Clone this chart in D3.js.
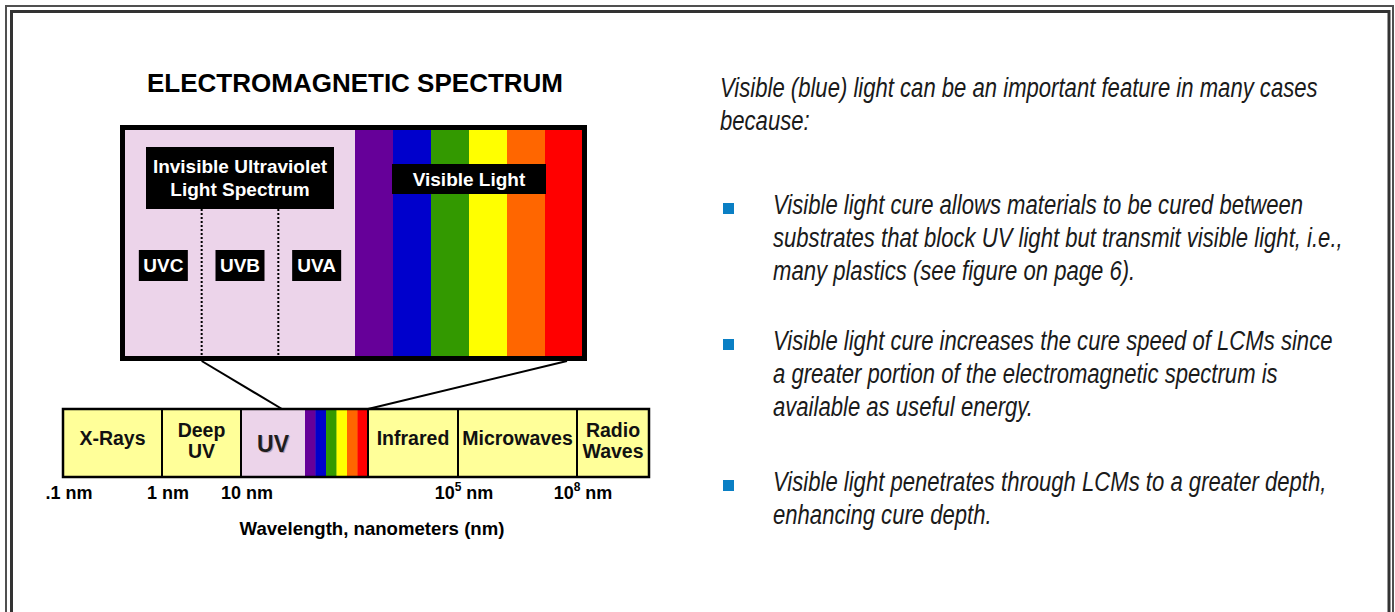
<!DOCTYPE html>
<html>
<head>
<meta charset="utf-8">
<script src="https://cdn.jsdelivr.net/npm/d3@7"></script>
<style>
  html, body { margin: 0; padding: 0; background: #fff; }
  svg { display: block; }
</style>
</head>
<body>
<script>
// ---------- data ----------
const title = "ELECTROMAGNETIC SPECTRUM";
const axisTitle = "Wavelength, nanometers (nm)";
// bottom band regions (left → right) and their relative widths on the strip
const regionNames = [["X-Rays"], ["Deep", "UV"], ["UV"], [], ["Infrared"], ["Microwaves"], ["Radio", "Waves"]];
const regionKinds = ["ray", "ray", "uv", "visible", "ray", "ray", "ray"];
const regionSpan = [99, 79, 64, 63, 90, 119, 72];
// wavelength tick labels at region boundaries
const tickBoundary = [0, 1, 2, 5, 6];
const tickBase = [".1", "1", "10", "10", "10"];
const tickExp = ["", "", "", "5", "8"];
// visible spectrum colours (violet → red)
const visibleColors = ["#660099", "#0000cc", "#339900", "#ffff00", "#ff6600", "#ff0000"];
// UV sub-bands
const uvBands = ["UVC", "UVB", "UVA"];
const uvTitle = ["Invisible Ultraviolet", "Light Spectrum"];
const visibleTitle = "Visible Light";
// right-hand text
const introLines = ["Visible (blue) light can be an important feature in many cases", "because:"];
const bullets = [
  ["Visible light cure allows materials to be cured between",
   "substrates that block UV light but transmit visible light, i.e.,",
   "many plastics (see figure on page 6)."],
  ["Visible light cure increases the cure speed of LCMs since",
   "a greater portion of the electromagnetic spectrum is",
   "available as useful energy."],
  ["Visible light penetrates through LCMs to a greater depth,",
   "enhancing cure depth."]
];

// ---------- drawing ----------
const W = 1395, H = 612;
const svg = d3.select("body").append("svg").attr("width", W).attr("height", H);
const SANS = "'Liberation Sans', Arial, Helvetica, sans-serif";
const PINK = "#ecd4ea", YELLOW = "#ffff99";

// page frame (double rule, open at bottom)
svg.append("path").attr("d", `M6,${H} V6 H1393 V${H}`)
  .attr("fill", "none").attr("stroke", "#505050").attr("stroke-width", 2);
svg.append("path").attr("d", `M11.5,${H} V11.5 H1389 V${H}`)
  .attr("fill", "none").attr("stroke", "#333").attr("stroke-width", 3);

// title
svg.append("text").attr("x", 355).attr("y", 92).attr("text-anchor", "middle")
  .attr("font-family", SANS).attr("font-weight", "bold").attr("font-size", 26)
  .attr("fill", "#000").text(title);

// ----- zoomed box -----
const box = { x0: 125, x1: 583, y0: 130, y1: 356, split: 355 };
const uvX = d3.scaleBand().domain(uvBands).range([box.x0, box.split]);
const visX = d3.scaleBand().domain(visibleColors).range([box.split, box.x1]);

svg.append("rect").attr("x", box.x0).attr("y", box.y0)
  .attr("width", box.split - box.x0).attr("height", box.y1 - box.y0).attr("fill", PINK);
svg.append("g").selectAll("rect").data(visibleColors).join("rect")
  .attr("x", d => visX(d)).attr("y", box.y0)
  .attr("width", visX.bandwidth() + 0.5).attr("height", box.y1 - box.y0)
  .attr("fill", d => d);

// dotted separators between UV sub-bands
svg.append("g").selectAll("line").data(uvBands.slice(1)).join("line")
  .attr("x1", d => uvX(d)).attr("x2", d => uvX(d))
  .attr("y1", 209).attr("y2", box.y1)
  .attr("stroke", "#000").attr("stroke-width", 2).attr("stroke-dasharray", "2,2");

function labelBox(cx, yTop, w, h, lines, baseFirst, lineGap) {
  svg.append("rect").attr("x", cx - w / 2).attr("y", yTop).attr("width", w).attr("height", h)
    .attr("fill", "#000");
  const t = svg.append("text").attr("text-anchor", "middle")
    .attr("font-family", SANS).attr("font-weight", "bold").attr("font-size", 19).attr("fill", "#fff");
  lines.forEach((s, i) => t.append("tspan").attr("x", cx).attr("y", baseFirst + i * lineGap).text(s));
}
labelBox((box.x0 + box.split) / 2, 147, 188, 62, uvTitle, 173, 23);
labelBox((box.split + box.x1) / 2, 164, 154, 30, [visibleTitle], 186, 0);
uvBands.forEach(b => labelBox(uvX(b) + uvX.bandwidth() / 2, 250, 49, 31, [b], 272, 0));

// box outline
svg.append("rect").attr("x", 122.5).attr("y", 127.5).attr("width", 462).attr("height", 231)
  .attr("fill", "none").attr("stroke", "#000").attr("stroke-width", 5);

// ----- bottom strip -----
const bounds = [0, ...d3.cumsum(regionSpan)];
const sx = d3.scaleLinear().domain([0, bounds[bounds.length - 1]]).range([63, 649]);
const stripY0 = 409, stripY1 = 477;

// connector lines from the zoomed box to the UV + visible part of the strip
const uvIdx = regionKinds.indexOf("uv"), visIdx = regionKinds.indexOf("visible");
svg.append("line").attr("x1", uvX(uvBands[1])).attr("y1", 361)
  .attr("x2", sx(bounds[uvIdx]) + 41).attr("y2", stripY0)
  .attr("stroke", "#000").attr("stroke-width", 2);
svg.append("line").attr("x1", 567).attr("y1", 361)
  .attr("x2", sx(bounds[visIdx + 1])).attr("y2", stripY0)
  .attr("stroke", "#000").attr("stroke-width", 2);

const regions = regionNames.map((n, i) => ({ names: n, kind: regionKinds[i], a: bounds[i], b: bounds[i + 1] }));
const rg = svg.append("g");
regions.forEach(r => {
  const x0 = sx(r.a), x1 = sx(r.b);
  if (r.kind === "visible") {
    const vx = d3.scaleBand().domain(visibleColors).range([x0, x1]);
    rg.selectAll(null).data(visibleColors).join("rect")
      .attr("x", d => vx(d)).attr("y", stripY0).attr("width", vx.bandwidth() + 0.4)
      .attr("height", stripY1 - stripY0).attr("fill", d => d);
  } else {
    rg.append("rect").attr("x", x0).attr("y", stripY0).attr("width", x1 - x0)
      .attr("height", stripY1 - stripY0).attr("fill", r.kind === "uv" ? PINK : YELLOW);
  }
  const cx = (x0 + x1) / 2;
  if (r.kind === "uv") {
    rg.append("text").attr("x", cx + 1).attr("y", 453).attr("text-anchor", "middle")
      .attr("font-family", SANS).attr("font-weight", "bold").attr("font-size", 23)
      .attr("fill", "#b8a0b6").text(r.names[0]);
    rg.append("text").attr("x", cx).attr("y", 452).attr("text-anchor", "middle")
      .attr("font-family", SANS).attr("font-weight", "bold").attr("font-size", 23)
      .attr("fill", "#1e1e1e").text(r.names[0]);
  } else if (r.names.length) {
    const t = rg.append("text").attr("text-anchor", "middle")
      .attr("font-family", SANS).attr("font-weight", "bold").attr("font-size", 19.5).attr("fill", "#111");
    const base = r.names.length === 1 ? [445] : [437, 458];
    r.names.forEach((s, i) => t.append("tspan").attr("x", cx).attr("y", base[i]).text(s));
  }
});
// dividers (except between UV and the visible colours)
svg.append("g").selectAll("line")
  .data(bounds.slice(1, -1).filter((b, i) => !(regionKinds[i] === "uv" && regionKinds[i + 1] === "visible")))
  .join("line")
  .attr("x1", d => sx(d)).attr("x2", d => sx(d)).attr("y1", stripY0).attr("y2", stripY1)
  .attr("stroke", "#000").attr("stroke-width", 2);
svg.append("rect").attr("x", sx(0)).attr("y", stripY0).attr("width", sx(bounds[bounds.length - 1]) - sx(0))
  .attr("height", stripY1 - stripY0).attr("fill", "none").attr("stroke", "#000").attr("stroke-width", 2.5);

// tick labels
tickBoundary.forEach((bi, i) => {
  const t = svg.append("text").attr("x", sx(bounds[bi]) + 6).attr("y", 499).attr("text-anchor", "middle")
    .attr("font-family", SANS).attr("font-weight", "bold").attr("font-size", 18).attr("fill", "#000");
  t.append("tspan").text(tickBase[i]);
  if (tickExp[i]) {
    t.append("tspan").attr("font-size", 12).attr("dy", -8).text(tickExp[i]);
    t.append("tspan").attr("dy", 8).text(" nm");
  } else {
    t.append("tspan").text(" nm");
  }
});
svg.append("text").attr("x", 372).attr("y", 535).attr("text-anchor", "middle")
  .attr("font-family", SANS).attr("font-weight", "bold").attr("font-size", 18.6).attr("fill", "#000")
  .text(axisTitle);

// ----- right-hand text -----
const NARROW = "'Liberation Sans Narrow', 'Arial Narrow', 'Liberation Sans', Arial, sans-serif";
const FS = 27;
const LH = 33;
const textItems = [];
introLines.forEach((s, i) => textItems.push({ s, x: 720, y: 97 + i * LH }));
const bulletStarts = [214, 350, 491];
bullets.forEach((lines, bi) => {
  lines.forEach((s, li) => textItems.push({ s, x: 773, y: bulletStarts[bi] + li * LH }));
});
const tg = svg.append("g");
const tnodes = textItems.map(d => tg.append("text")
  .attr("font-family", NARROW).attr("font-style", "italic").attr("font-size", FS)
  .attr("fill", "#1a1a1a").text(d.s));
const w0 = tnodes[0].node().getComputedTextLength();
const k = 598 / w0;
tnodes.forEach((t, i) => t.attr("transform", `translate(${textItems[i].x},${textItems[i].y}) scale(${k},1)`));
svg.append("g").selectAll("rect").data(bulletStarts).join("rect")
  .attr("x", 723).attr("y", d => d - 11).attr("width", 11).attr("height", 11).attr("fill", "#0a7fc4");
</script>
</body>
</html>
